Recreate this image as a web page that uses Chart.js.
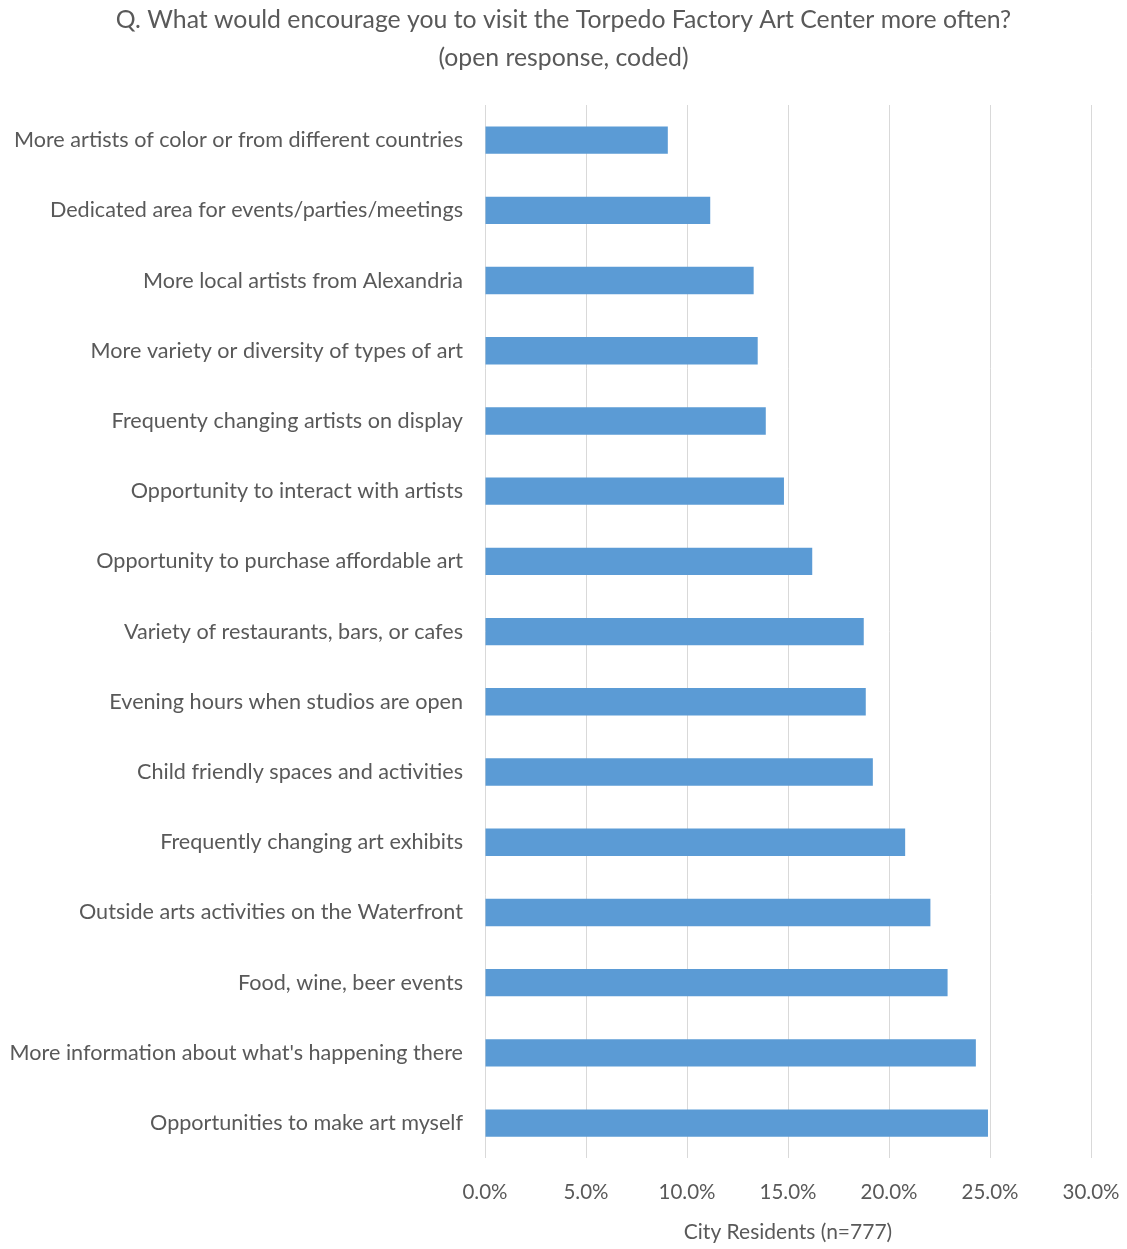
<!DOCTYPE html>
<html>
<head>
<meta charset="utf-8">
<script src="https://cdn.jsdelivr.net/npm/chart.js@4"></script>
<style>
html,body{margin:0;padding:0;background:#fff;}
#wrap{width:1127px;height:1249px;position:relative;}
</style>
</head>
<body>
<div id="wrap"><canvas id="c" width="1127" height="1249"></canvas></div>
<script>
const titleLines = ["Q. What would encourage you to visit the Torpedo Factory Art Center more often?", "(open response, coded)"];
const categories = [
  "More artists of color or from different countries",
  "Dedicated area for events/parties/meetings",
  "More local artists from Alexandria",
  "More variety or diversity of types of art",
  "Frequenty changing artists on display",
  "Opportunity to interact with artists",
  "Opportunity to purchase affordable art",
  "Variety of restaurants, bars, or cafes",
  "Evening hours when studios are open",
  "Child friendly spaces and activities",
  "Frequently changing art exhibits",
  "Outside arts activities on the Waterfront",
  "Food, wine, beer events",
  "More information about what's happening there",
  "Opportunities to make art myself"
];
const values = [9.05, 11.15, 13.3, 13.5, 13.9, 14.8, 16.2, 18.75, 18.85, 19.2, 20.8, 22.05, 22.9, 24.3, 24.9];
const xAxisTitle = "City Residents (n=777)";
const xMin = 0, xMax = 30, xStep = 5;

const FONT = "Lato, 'Open Sans', sans-serif";
const TEXT = "#595959";

const titlePlugin = {
  id: 'pageTitle',
  afterDraw(chart) {
    const ctx = chart.ctx;
    ctx.save();
    ctx.fillStyle = TEXT;
    ctx.font = "24.8px " + FONT;
    ctx.textAlign = 'center';
    ctx.textBaseline = 'middle';
    const cx = chart.width / 2;
    ctx.fillText(titleLines[0], cx, 20);
    ctx.fillText(titleLines[1], cx, 58);
    ctx.restore();
  }
};

new Chart(document.getElementById('c'), {
  type: 'bar',
  data: {
    labels: categories,
    datasets: [{
      data: values,
      backgroundColor: '#5B9BD5',
      borderWidth: 0,
      categoryPercentage: 1.0,
      barPercentage: 0.39
    }]
  },
  plugins: [titlePlugin],
  options: {
    indexAxis: 'y',
    responsive: false,
    animation: false,
    devicePixelRatio: 1,
    layout: { padding: { left: 0, right: 36, top: 105, bottom: 4 } },
    plugins: {
      legend: { display: false },
      tooltip: { enabled: false },
      title: { display: false }
    },
    scales: {
      x: {
        min: xMin, max: xMax,
        ticks: {
          stepSize: xStep,
          color: TEXT,
          font: { family: FONT, size: 20.5 },
          padding: 22,
          callback: v => v.toFixed(1) + '%'
        },
        grid: { color: '#D9D9D9', lineWidth: 1, drawTicks: false },
        border: { display: false },
        title: {
          display: true,
          text: xAxisTitle,
          color: TEXT,
          font: { family: FONT, size: 21 },
          padding: { top: -7, bottom: 0 }
        },
        afterFit: s => { s.paddingLeft = 0; s.paddingRight = 0; }
      },
      y: {
        ticks: {
          color: TEXT,
          font: { family: FONT, size: 21.6 },
          padding: 22,
          autoSkip: false
        },
        grid: { display: false, drawTicks: false },
        border: { display: false },
        afterFit: s => { s.width = 485; }
      }
    }
  }
});
</script>
</body>
</html>
